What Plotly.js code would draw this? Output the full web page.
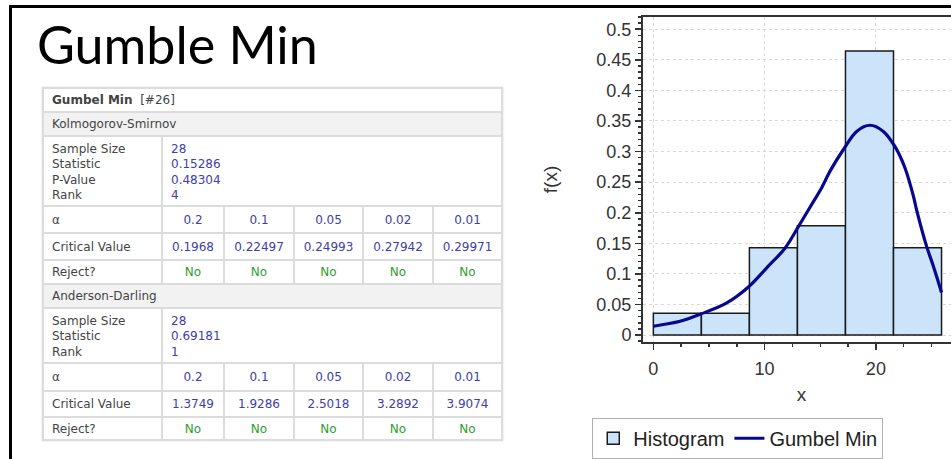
<!DOCTYPE html>
<html><head><meta charset="utf-8">
<script src="https://cdn.plot.ly/plotly-3.0.1.min.js"></script>
<style>
html,body{margin:0;padding:0;width:951px;height:459px;overflow:hidden;background:#fff;}
body{position:relative;}
#frameTop{position:absolute;left:9px;top:5px;width:960px;height:3px;background:#000;}
#frameLeft{position:absolute;left:9px;top:5px;width:3px;height:470px;background:#000;}
#title{position:absolute;left:37px;top:18px;font-family:Lato,'Liberation Sans',sans-serif;font-size:52px;line-height:52px;color:#000;white-space:nowrap;}
#tbl{position:absolute;left:42px;top:87px;width:459px;border-collapse:collapse;table-layout:fixed;font-family:'DejaVu Sans',Verdana,sans-serif;font-size:12px;color:#444;box-shadow:0 0 2px rgba(0,0,0,0.12);}
#tbl td{border:2px solid #dcdcdc;padding:0 0 0 8px;vertical-align:middle;white-space:nowrap;overflow:hidden;}
#tbl td.v{color:#4040aa;text-align:center;padding:0;}
#tbl td.no{color:#2e9e2e;text-align:center;padding:0;}
#tbl td.stats{vertical-align:top;padding-top:5px;line-height:15.3px;}
#tbl td.statv{vertical-align:top;padding-top:5px;line-height:15.3px;color:#4040aa;}
#tbl tr.grey td{background:#f2f2f2;}
#chart{position:absolute;left:540px;top:0;width:420px;height:459px;}
</style></head>
<body>
<div id="frameTop"></div><div id="frameLeft"></div>
<div id="title">Gumble Min</div>
<table id="tbl"></table>
<div id="chart"></div>
<script>
// ---- table data ----
const tableTitle = 'Gumbel Min';
const tableTag = '[#26]';
const ksName = 'Kolmogorov-Smirnov';
const ksStatLabels = ['Sample Size','Statistic','P-Value','Rank'];
const ksStatValues = ['28','0.15286','0.48304','4'];
const alphas = ['0.2','0.1','0.05','0.02','0.01'];
const ksCritical = ['0.1968','0.22497','0.24993','0.27942','0.29971'];
const ksReject = ['No','No','No','No','No'];
const adName = 'Anderson-Darling';
const adStatLabels = ['Sample Size','Statistic','Rank'];
const adStatValues = ['28','0.69181','1'];
const adCritical = ['1.3749','1.9286','2.5018','3.2892','3.9074'];
const adReject = ['No','No','No','No','No'];

// ---- chart data ----
const binEdges = [0, 4.317, 8.633, 12.95, 17.267, 21.583, 25.9];
const histHeights = [0.0357, 0.0357, 0.1429, 0.1786, 0.4643, 0.1429];
const curveX = [0, 2.4, 4.2, 6.6, 8.57, 10.19, 11.83, 13.06, 14.08, 15.13, 15.88, 17.07, 18.27, 19.47, 20.67, 21.72, 22.6, 23.36, 23.67, 24.56, 25.16, 25.9];
const curveY = [0.0145, 0.0225, 0.034, 0.0526, 0.079, 0.11, 0.142, 0.178, 0.209, 0.241, 0.268, 0.303, 0.333, 0.343, 0.333, 0.308, 0.274, 0.228, 0.204, 0.145, 0.113, 0.0697];
const xTickVals = [0, 10, 20];

// ---- build table ----
(function(){
  const colW = [119, 62, 70, 69, 70, 69];
  let h = '<colgroup>' + colW.map(w=>'<col style="width:'+w+'px">').join('') + '</colgroup>';
  h += '<tr style="height:24px"><td colspan="6"><b>'+tableTitle+'</b>&nbsp; '+tableTag+'</td></tr>';
  function block(name, labels, values, crit, rej, hs){
    let s = '<tr class="grey" style="height:'+hs[0]+'px"><td colspan="6">'+name+'</td></tr>';
    s += '<tr style="height:'+hs[1]+'px"><td class="stats">'+labels.join('<br>')+'</td><td class="statv" colspan="5">'+values.join('<br>')+'</td></tr>';
    s += '<tr style="height:'+hs[2]+'px"><td>α</td>'+alphas.map(a=>'<td class="v">'+a+'</td>').join('')+'</tr>';
    s += '<tr style="height:'+hs[3]+'px"><td>Critical Value</td>'+crit.map(a=>'<td class="v">'+a+'</td>').join('')+'</tr>';
    s += '<tr style="height:'+hs[4]+'px"><td>Reject?</td>'+rej.map(a=>'<td class="no">'+a+'</td>').join('')+'</tr>';
    return s;
  }
  h += block(ksName, ksStatLabels, ksStatValues, ksCritical, ksReject, [24,70,27,27,24]);
  h += block(adName, adStatLabels, adStatValues, adCritical, adReject, [24,55,28,26,23]);
  document.getElementById('tbl').innerHTML = h;
})();

// ---- chart ----
const barX = histHeights.map((_, i) => (binEdges[i] + binEdges[i+1]) / 2);
const barW = histHeights.map((_, i) => binEdges[i+1] - binEdges[i]);

const traces = [
  {type:'bar', name:'Histogram', x:barX, y:histHeights, width:barW,
   marker:{color:'#cce4fa', line:{color:'#1a1a1a', width:1.5}}, hoverinfo:'skip'},
  {type:'scatter', mode:'lines', name:'Gumbel Min', x:curveX, y:curveY,
   line:{color:'#08088f', width:3.2, shape:'spline', smoothing:1}, hoverinfo:'skip'}
];

const axisCommon = {
  showline:true, linecolor:'#333', linewidth:2, mirror:true,
  ticks:'outside', ticklen:6, tickwidth:1.5, tickcolor:'#333',
  showgrid:true, gridcolor:'#d8d8d8', griddash:'dot', gridwidth:1,
  zeroline:false, tickfont:{size:18, color:'#333'}
};

const layout = {
  width:420, height:459,
  margin:{l:103, r:0, t:17, b:112, pad:0},
  paper_bgcolor:'rgba(0,0,0,0)', plot_bgcolor:'#fff',
  font:{family:'Liberation Sans, Arial, sans-serif', size:18, color:'#333'},
  bargap:0, barmode:'overlay',
  showlegend:true,
  legend:{orientation:'h', x:-0.16, xanchor:'left', y:-0.233, yanchor:'top',
          bordercolor:'#b0b0b0', borderwidth:1, bgcolor:'#fff',
          font:{size:20, color:'#222'}, traceorder:'normal'},
  xaxis:Object.assign({}, axisCommon, {
    range:[-0.93, 27.56], tickmode:'array', tickvals:xTickVals, ticklabelstandoff:3,
    minor:{tickmode:'linear', tick0:0, dtick:2.5, ticklen:3, tickcolor:'#333', showgrid:false},
    title:{text:'x', font:{size:19, color:'#333'}, standoff:10}
  }),
  yaxis:Object.assign({}, axisCommon, {
    range:[-0.0113, 0.52], tickmode:'linear', tick0:0, dtick:0.05,
    minor:{dtick:0.01, ticklen:3, tickcolor:'#333', showgrid:false},
    title:{text:'f(x)', font:{size:19, color:'#333'}, standoff:34}
  })
};

Plotly.newPlot('chart', traces, layout, {staticPlot:true, displayModeBar:false});
</script>
</body></html>
